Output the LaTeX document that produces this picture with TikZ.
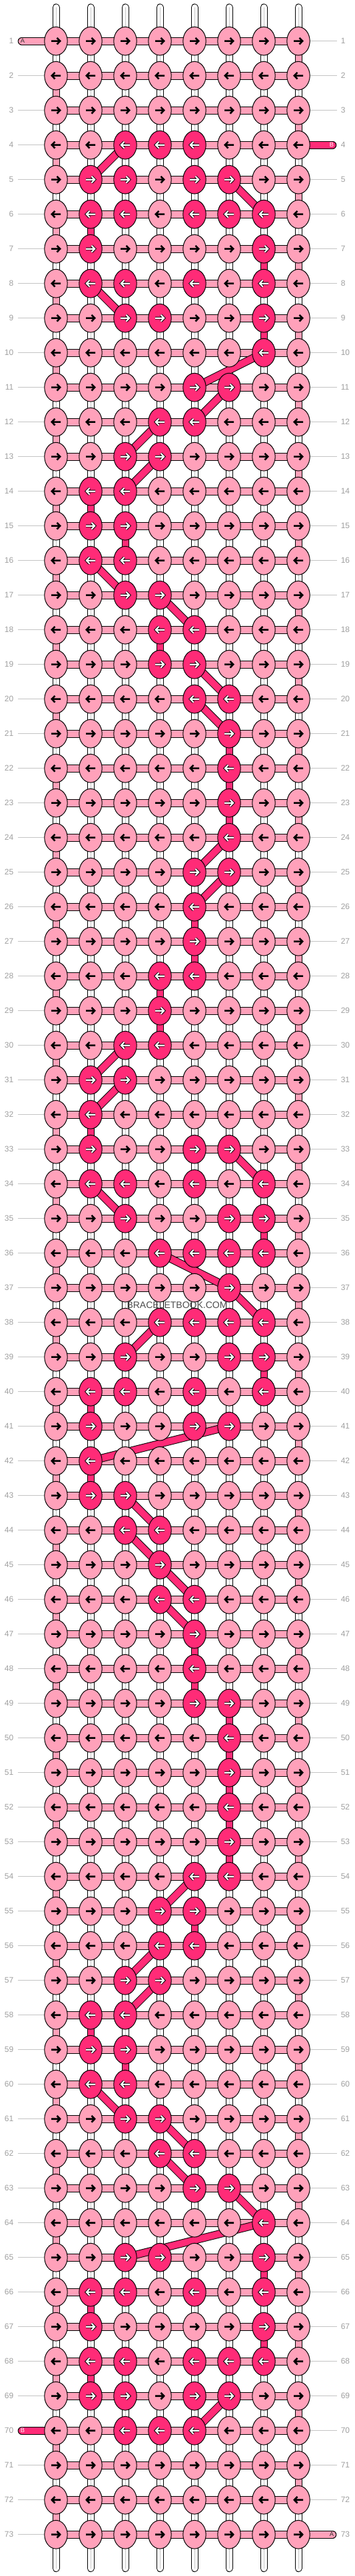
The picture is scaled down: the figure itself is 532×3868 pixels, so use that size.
\documentclass[tikz,border=0pt]{standalone}
\usepackage{fontspec}
\setmainfont{Liberation Sans}
\usetikzlibrary{shapes.geometric}
\pgfdeclarelayer{bg}
\pgfsetlayers{bg,main}
\definecolor{lpink}{HTML}{FFA1BA}
\definecolor{dpink}{HTML}{FF2B77}
\definecolor{lblgray}{HTML}{A0A0A0}
\definecolor{linegray}{HTML}{C4C4C4}
\definecolor{wmgray}{HTML}{4D4D4D}
\begin{document}
\begin{tikzpicture}[x=0.75pt,y=-0.75pt,
  knotL/.style={ellipse, draw=black, line width=0.75pt, fill=lpink, minimum width=25.8pt, minimum height=32pt, inner sep=0pt, outer sep=0pt},
  knotD/.style={knotL, fill=dpink},
  arrowblack/.style={draw=black, line width=1.9pt, line join=miter, line cap=butt},
  arrowout/.style={draw=black, line width=3.0pt, line join=miter, line cap=butt},
  arrowwhite/.style={draw=white, line width=1.6pt, line join=miter, line cap=butt},
  warp/.style={draw=black, line width=0.75pt, double=white, double distance=6.75pt, line cap=round},
  warpmid/.style={draw=black!22, line width=0.6pt},
  vlinkL/.style={draw=black, line width=0.75pt, double=lpink, double distance=6.75pt},
  vlinkD/.style={draw=black, line width=0.75pt, double=dpink, double distance=6.75pt},
  hlink/.style={draw=black, line width=0.75pt, double=lpink, double distance=7.5pt},
  diag/.style={draw=black, line width=0.75pt, double=dpink, double distance=7.5pt},
  tailL/.style={hlink, line cap=round},
  tailD/.style={diag, line cap=round},
  rowline/.style={draw=linegray, line width=0.75pt},
  lbl/.style={font=\fontsize{9pt}{9pt}\selectfont, text=lblgray, inner sep=0pt},
  taillbl/.style={font=\fontsize{7pt}{7pt}\selectfont, inner sep=0pt}
]
\useasboundingbox (0,0) rectangle (532,3868);

% knots, arrows and row labels
\foreach \r/\m in {1/0,2/0,3/0,4/28,5/54,6/118,7/66,8/86,9/76,10/64,11/48,12/24,13/12,14/6,15/6,16/6,17/12,18/24,19/24,20/48,21/32,22/32,23/32,24/32,25/48,26/16,27/16,28/24,29/8,30/12,31/6,32/2,33/50,34/86,35/100,36/120,37/32,38/120,39/100,40/86,41/50,42/2,43/6,44/12,45/8,46/24,47/16,48/16,49/48,50/32,51/32,52/32,53/32,54/48,55/24,56/24,57/12,58/6,59/6,60/6,61/12,62/24,63/48,64/64,65/76,66/86,67/66,68/118,69/54,70/28,71/0,72/0,73/0} {
  \pgfmathsetmacro\Y{61.7+52*(\r-1)}
  \pgfmathtruncatemacro\dir{ifthenelse(mod(\r,2)==1,1,-1)}
  \foreach \c in {1,...,8} {
    \pgfmathsetmacro\X{84+52*(\c-1)}
    \pgfmathtruncatemacro\bit{mod(floor(\m/2^(\c-1)),2)}
    \ifnum\bit=1
      \node[knotD] (k-\r-\c) at (\X,\Y) {};
      \begin{scope}[shift={(\X,\Y)},xscale=\dir]
        \draw[arrowout] (-7,0) -- (6,0) (1.5,-4.8) -- (6.2,0) -- (1.5,4.8);
        \draw[arrowwhite] (-7,0) -- (6,0) (1.5,-4.8) -- (6.2,0) -- (1.5,4.8);
      \end{scope}
    \else
      \node[knotL] (k-\r-\c) at (\X,\Y) {};
      \begin{scope}[shift={(\X,\Y)},xscale=\dir]
        \draw[arrowblack] (-7,0) -- (6,0) (1.5,-4.8) -- (6.2,0) -- (1.5,4.8);
      \end{scope}
    \fi
  }
  \node[lbl, anchor=east] (ll-\r) at (20.5,\Y) {\r};
  \node[lbl, anchor=west] (lr-\r) at (511.5,\Y) {\r};
}

% free ends
\foreach \c in {1,...,8} {
  \pgfmathsetmacro\X{84+52*(\c-1)}
  \coordinate (top-\c) at (\X,11);
  \coordinate (bot-\c) at (\X,3856.5);
}
\coordinate (tail-a1) at (32.7,61.7);
\coordinate (tail-b4) at (499.3,217.7);
\coordinate (tail-b70) at (32.7,3649.7);
\coordinate (tail-a73) at (499.3,3805.7);

\begin{pgfonlayer}{bg}
  \fill[white] (0,0) rectangle (532,3868);
  % row guide lines
  \foreach \r in {1,...,73} {
    \pgfmathsetmacro\Y{61.7+52*(\r-1)}
    \ifnum\r=1\else\ifnum\r=70\else
      \coordinate (gl-\r) at (26.5,\Y);
      \draw[rowline] (gl-\r) -- (k-\r-1.center);
    \fi\fi
    \ifnum\r=4\else\ifnum\r=73\else
      \coordinate (gr-\r) at (505.5,\Y);
      \draw[rowline] (k-\r-8.center) -- (gr-\r);
    \fi\fi
  }
  % white warp strings
  \foreach \c in {1,...,8} {
    \draw[warp] (top-\c) \foreach \r in {1,...,73}{ -- (k-\r-\c.center)} -- (bot-\c);
    \draw[warpmid] (top-\c) -- (bot-\c);
  }
  % horizontal weft links
  \foreach \r in {1,...,73} {
    \draw[hlink] (k-\r-1.center) -- (k-\r-8.center);
  }
  % weft turning at the edges
  \foreach \r in {1,...,72} {
    \pgfmathtruncatemacro\rn{\r+1}
    \pgfmathtruncatemacro\ec{ifthenelse(mod(\r,2)==1,8,1)}
    \draw[vlinkL] (k-\r-\ec.center) -- (k-\rn-\ec.center);
  }
  % dark string carried straight down
  \foreach \r/\c in {6/2,7/7,9/7,14/2,15/3,18/4,21/6,22/6,23/6,26/5,27/5,28/4,29/4,32/2,35/7,39/7,40/2,42/2,47/5,48/5,49/6,50/6,51/6,52/6,53/6,55/5,58/2,59/3,65/7,66/2,67/7,68/2} {
    \pgfmathtruncatemacro\rn{\r+1}
    \draw[vlinkD] (k-\r-\c.center) -- (k-\rn-\c.center);
  }
  % dark string carried diagonally
  \foreach \r/\a/\b in {4/3/2,5/6/7,8/2/3,10/7/5,11/6/5,12/4/3,13/4/3,16/2/3,17/4/5,19/5/6,20/5/6,24/6/5,25/6/5,30/3/2,31/3/2,33/6/7,34/2/3,36/4/6,37/6/7,38/4/3,41/6/2,43/3/4,44/3/4,45/4/5,46/4/5,54/5/4,56/4/3,57/4/3,60/2/3,61/4/5,62/4/5,63/6/7,64/7/3,69/6/5} {
    \pgfmathtruncatemacro\rn{\r+1}
    \draw[diag] (k-\r-\a.center) -- (k-\rn-\b.center);
  }
  % tails
  \draw[tailL] (tail-a1) -- (k-1-1.center);
  \draw[tailD] (k-4-8.center) -- (tail-b4);
  \draw[tailD] (tail-b70) -- (k-70-1.center);
  \draw[tailL] (k-73-8.center) -- (tail-a73);
\end{pgfonlayer}

\node[taillbl, text=black!80] (la1) at (34,61.7) {A};
\node[taillbl, text=white] (lb4) at (498,217.7) {B};
\node[taillbl, text=white] (lb70) at (34,3649.7) {B};
\node[taillbl, text=black!80] (la73) at (498,3805.7) {A};

\node[font=\fontsize{10.5pt}{10.5pt}\selectfont, text=wmgray, inner sep=0pt] (wm) at (266,1959.5) {BRACELETBOOK.COM};
\end{tikzpicture}
\end{document}
